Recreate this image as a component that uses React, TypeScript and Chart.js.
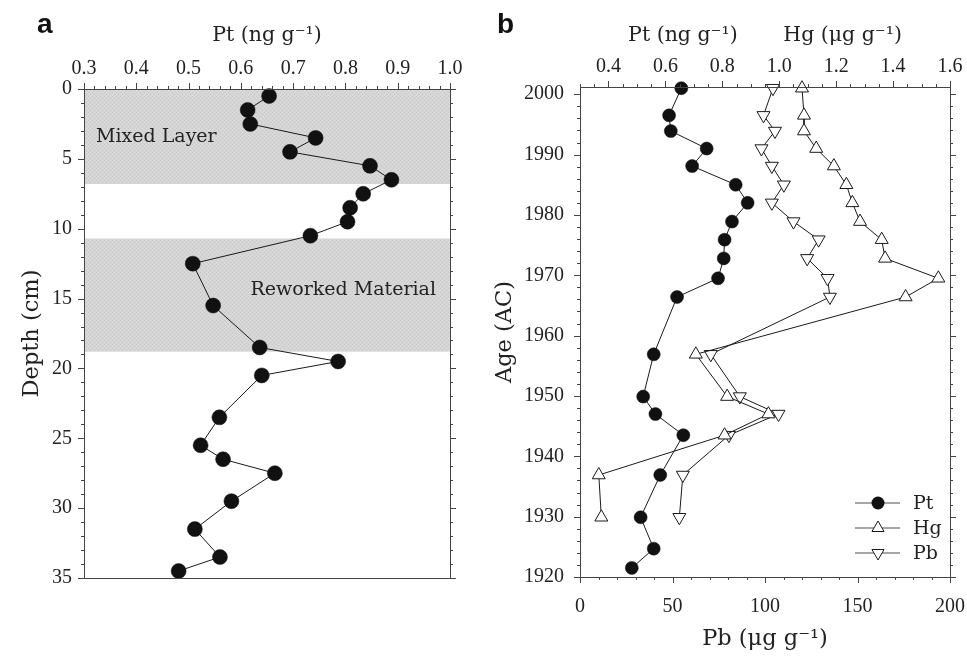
import React, { useEffect, useRef } from 'react';
import { Chart, registerables } from 'chart.js';
Chart.register(...registerables);

// ---------- Panel a : Pt vs depth ----------
const DEPTH_CM = [0.5, 1.5, 2.5, 3.5, 4.5, 5.5, 6.5, 7.5, 8.5, 9.5, 10.5, 12.5, 15.5, 18.5, 19.5, 20.5, 23.5, 25.5, 26.5, 27.5, 29.5, 31.5, 33.5, 34.5];
const PT_BY_DEPTH = [0.654, 0.613, 0.618, 0.743, 0.694, 0.847, 0.888, 0.834, 0.809, 0.804, 0.733, 0.508, 0.547, 0.636, 0.786, 0.640, 0.559, 0.523, 0.566, 0.665, 0.582, 0.512, 0.560, 0.481];
const SHADED_ZONES: [number, number][] = [[0, 6.8], [10.7, 18.8]];
const PT_TICKS_A = [0.3, 0.4, 0.5, 0.6, 0.7, 0.8, 0.9, 1.0];
const DEPTH_TICKS = [0, 5, 10, 15, 20, 25, 30, 35];

// ---------- Panel b : Pt, Hg, Pb vs age ----------
const PT_YEARS = [2001, 1996.5, 1993.9, 1991, 1988.1, 1985, 1982, 1978.9, 1975.9, 1972.8, 1969.5, 1966.4, 1956.9, 1949.9, 1947, 1943.5, 1936.9, 1929.9, 1924.7, 1921.5];
const PT_BY_AGE = [0.656, 0.613, 0.619, 0.745, 0.694, 0.847, 0.889, 0.834, 0.808, 0.805, 0.785, 0.641, 0.559, 0.522, 0.565, 0.663, 0.582, 0.513, 0.559, 0.482];
const METAL_YEARS = [2001, 1996.5, 1993.9, 1991, 1988.1, 1985, 1982, 1978.9, 1975.9, 1972.8, 1969.5, 1966.4, 1956.9, 1949.9, 1947, 1943.5, 1936.9, 1929.9];
const HG = [1.080, 1.087, 1.087, 1.130, 1.192, 1.236, 1.257, 1.284, 1.360, 1.372, 1.559, 1.444, 0.707, 0.817, 0.962, 0.808, 0.366, 0.375];
const PB = [104.3, 99.2, 105.4, 98.1, 103.7, 110.2, 103.7, 115.4, 129.0, 122.8, 133.8, 135.1, 70.7, 86.4, 107.3, 80.5, 55.6, 53.7];
const TOP_TICKS_B = [0.4, 0.6, 0.8, 1.0, 1.2, 1.4, 1.6];
const PB_TICKS = [0, 50, 100, 150, 200];
const YEAR_TICKS = [1920, 1930, 1940, 1950, 1960, 1970, 1980, 1990, 2000];
const LEGEND_LABELS = ['Pt', 'Hg', 'Pb'];

const INK = '#1a1a1a';
const AXIS = '#444';
const TICK_FONT = { family: '"Liberation Serif", serif', size: 20 };
const TOP_TITLE_FONT = { family: '"DejaVu Serif", serif', size: 20.5 };
const SIDE_TITLE_FONT = { family: '"DejaVu Serif", serif', size: 22.5 };

type Side = 'top' | 'bottom' | 'left' | 'right';

function drawTicks(ctx: CanvasRenderingContext2D, scale: any, area: any, side: Side,
  from: number, to: number, step: number, majorEvery: number, majorOffset: number,
  majLen: number, minLen: number) {
  const n = Math.round((to - from) / step);
  ctx.beginPath();
  for (let i = 0; i <= n; i++) {
    const v = from + i * step;
    const major = (i - majorOffset) % majorEvery === 0 && i >= majorOffset;
    const len = major ? majLen : minLen;
    const p = Math.round(scale.getPixelForValue(v)) + 0.5;
    if (side === 'top') { ctx.moveTo(p, area.top); ctx.lineTo(p, area.top - len); }
    if (side === 'bottom') { ctx.moveTo(p, area.bottom); ctx.lineTo(p, area.bottom + len); }
    if (side === 'left') { ctx.moveTo(area.left, p); ctx.lineTo(area.left - len, p); }
    if (side === 'right') { ctx.moveTo(area.right, p); ctx.lineTo(area.right + len, p); }
  }
  ctx.stroke();
}

function drawFrame(ctx: CanvasRenderingContext2D, a: any) {
  ctx.strokeStyle = AXIS;
  ctx.lineWidth = 1;
  ctx.strokeRect(Math.round(a.left) + 0.5, Math.round(a.top) + 0.5,
    Math.round(a.right - a.left), Math.round(a.bottom - a.top));
}

function makePattern(ctx: CanvasRenderingContext2D) {
  const c = document.createElement('canvas');
  c.width = 4; c.height = 4;
  const g = c.getContext('2d')!;
  g.fillStyle = '#d5d5d5'; g.fillRect(0, 0, 4, 4);
  g.fillStyle = '#c9c9c9'; g.fillRect(0, 0, 1, 1); g.fillRect(2, 2, 1, 1);
  g.fillStyle = '#dcdcdc'; g.fillRect(2, 0, 1, 1); g.fillRect(0, 2, 1, 1);
  return ctx.createPattern(c, 'repeat')!;
}

const panelAPlugin = {
  id: 'panelA',
  beforeDatasetsDraw(chart: any) {
    const { ctx, chartArea: a, scales: { y } } = chart;
    ctx.save();
    ctx.fillStyle = makePattern(ctx);
    for (const [d0, d1] of SHADED_ZONES) {
      const y0 = y.getPixelForValue(d0), y1 = y.getPixelForValue(d1);
      ctx.fillRect(a.left, y0, a.right - a.left, y1 - y0);
    }
    ctx.fillStyle = '#222';
    ctx.font = '19px "DejaVu Serif", serif';
    ctx.textBaseline = 'alphabetic';
    ctx.textAlign = 'left';
    ctx.fillText('Mixed Layer', a.left + 12, y.getPixelForValue(3.8));
    ctx.textAlign = 'right';
    ctx.fillText('Reworked Material', a.right - 14, y.getPixelForValue(14.75));
    ctx.restore();
  },
  afterDraw(chart: any) {
    const { ctx, chartArea: a, scales: { x, y } } = chart;
    ctx.save();
    drawFrame(ctx, a);
    ctx.strokeStyle = AXIS;
    drawTicks(ctx, x, a, 'top', 0.3, 1.0, 0.02, 5, 0, 6, 3);
    drawTicks(ctx, y, a, 'left', 0, 35, 1, 5, 0, 6, 3);
    drawTicks(ctx, y, a, 'right', 0, 35, 1, 5, 0, 6, 3);
    ctx.fillStyle = '#111';
    ctx.font = 'bold 28px "Liberation Sans", Arial, sans-serif';
    ctx.textAlign = 'left';
    ctx.textBaseline = 'alphabetic';
    ctx.fillText('a', 37, 33);
    ctx.restore();
  },
};

function drawMarker(ctx: CanvasRenderingContext2D, kind: string, x: number, y: number, r: number) {
  ctx.beginPath();
  if (kind === 'circle') {
    ctx.arc(x, y, r, 0, Math.PI * 2);
    ctx.fillStyle = '#111';
    ctx.fill();
    return;
  }
  const s = kind === 'up' ? 1 : -1;
  for (let k = 0; k < 3; k++) {
    const ang = k * (2 * Math.PI / 3);
    const px = x + Math.sin(ang) * r;
    const py = y - s * Math.cos(ang) * r;
    if (k === 0) ctx.moveTo(px, py); else ctx.lineTo(px, py);
  }
  ctx.closePath();
  ctx.fillStyle = '#fff';
  ctx.fill();
  ctx.strokeStyle = INK;
  ctx.lineWidth = 1;
  ctx.stroke();
}

const panelBPlugin = {
  id: 'panelB',
  afterDraw(chart: any) {
    const { ctx, chartArea: a, scales } = chart;
    ctx.save();
    drawFrame(ctx, a);
    ctx.strokeStyle = AXIS;
    drawTicks(ctx, scales.xTop, a, 'top', 0.3, 1.6, 0.05, 4, 2, 6, 3);
    drawTicks(ctx, scales.xBottom, a, 'bottom', 0, 200, 10, 5, 0, 6, 3);
    drawTicks(ctx, scales.y, a, 'left', 1920, 2000, 2, 5, 0, 6, 3);
    drawTicks(ctx, scales.y, a, 'right', 1920, 2000, 2, 5, 0, 6, 3);

    // legend
    const kinds = ['circle', 'up', 'down'];
    const lx0 = a.right - 95, lx1 = a.right - 50, mx = a.right - 72, tx = a.right - 37;
    const ys = [a.bottom - 74, a.bottom - 49, a.bottom - 24];
    ctx.font = '19px "DejaVu Serif", serif';
    ctx.textBaseline = 'middle';
    ctx.textAlign = 'left';
    LEGEND_LABELS.forEach((lab, i) => {
      ctx.strokeStyle = '#888';
      ctx.lineWidth = 1.5;
      ctx.beginPath();
      ctx.moveTo(lx0, ys[i]); ctx.lineTo(lx1, ys[i]);
      ctx.stroke();
      drawMarker(ctx, kinds[i], mx, ys[i], kinds[i] === 'circle' ? 6.5 : 7);
      ctx.fillStyle = '#222';
      ctx.fillText(lab, tx, ys[i] + 1);
    });

    ctx.fillStyle = '#111';
    ctx.font = 'bold 28px "Liberation Sans", Arial, sans-serif';
    ctx.textAlign = 'left';
    ctx.textBaseline = 'alphabetic';
    ctx.fillText('b', 17, 33);
    ctx.restore();
  },
};

const commonTicks = (padding: number, cb?: (v: number) => string) => ({
  font: TICK_FONT, color: '#222', padding,
  callback: cb ? ((v: any) => cb(Number(v))) : ((v: any) => String(v)),
});
const noGrid = { display: true, drawOnChartArea: false, drawTicks: false };
const fitH = (h: number) => (s: any) => { s.height = h; s.paddingLeft = 0; s.paddingRight = 0; };
const fitV = (w: number) => (s: any) => { s.width = w; s.paddingTop = 0; s.paddingBottom = 0; };

export default function App() {
  const refA = useRef<HTMLCanvasElement>(null);
  const refB = useRef<HTMLCanvasElement>(null);

  useEffect(() => {
    const chartA = new Chart(refA.current!, {
      type: 'scatter',
      data: {
        datasets: [{
          label: 'Pt',
          data: DEPTH_CM.map((d, i) => ({ x: PT_BY_DEPTH[i], y: d })),
          showLine: true,
          borderColor: INK, borderWidth: 1,
          pointRadius: 7.5, pointBackgroundColor: '#111', pointBorderColor: '#111', pointBorderWidth: 0.5,
          clip: false,
        } as any],
      },
      options: {
        animation: false, responsive: false, devicePixelRatio: 1,
        layout: { padding: { left: 0, top: 0, right: 30, bottom: 81 } },
        plugins: { legend: { display: false }, tooltip: { enabled: false } },
        scales: {
          x: {
            type: 'linear', position: 'top', min: 0.3, max: 1.0,
            afterBuildTicks: (s: any) => { s.ticks = PT_TICKS_A.map(v => ({ value: v })); },
            afterFit: fitH(89),
            ticks: commonTicks(8, v => v.toFixed(1)),
            grid: noGrid, border: { display: false },
            title: { display: true, text: 'Pt (ng g⁻¹)', font: TOP_TITLE_FONT, color: '#222', padding: { top: 23, bottom: 0 } },
          },
          y: {
            type: 'linear', reverse: true, min: 0, max: 35,
            afterBuildTicks: (s: any) => { s.ticks = DEPTH_TICKS.map(v => ({ value: v })); },
            afterFit: fitV(84),
            ticks: commonTicks(12),
            grid: noGrid, border: { display: false },
            title: { display: true, text: 'Depth (cm)', font: SIDE_TITLE_FONT, color: '#222', padding: { top: 19, bottom: 0 } },
          },
        },
      } as any,
      plugins: [panelAPlugin],
    });

    const chartB = new Chart(refB.current!, {
      type: 'scatter',
      data: {
        datasets: [
          {
            label: 'Pt', xAxisID: 'xTop', yAxisID: 'y',
            data: PT_YEARS.map((yr, i) => ({ x: PT_BY_AGE[i], y: yr })),
            showLine: true, borderColor: INK, borderWidth: 1,
            pointStyle: 'circle', pointRadius: 6.5,
            pointBackgroundColor: '#111', pointBorderColor: '#111', pointBorderWidth: 0.5,
            clip: false,
          },
          {
            label: 'Hg', xAxisID: 'xTop', yAxisID: 'y',
            data: METAL_YEARS.map((yr, i) => ({ x: HG[i], y: yr })),
            showLine: true, borderColor: INK, borderWidth: 1,
            pointStyle: 'triangle', pointRadius: 7.5,
            pointBackgroundColor: '#fff', pointBorderColor: INK, pointBorderWidth: 1,
            clip: false,
          },
          {
            label: 'Pb', xAxisID: 'xBottom', yAxisID: 'y',
            data: METAL_YEARS.map((yr, i) => ({ x: PB[i], y: yr })),
            showLine: true, borderColor: INK, borderWidth: 1,
            pointStyle: 'triangle', pointRotation: 180, pointRadius: 7.5,
            pointBackgroundColor: '#fff', pointBorderColor: INK, pointBorderWidth: 1,
            clip: false,
          },
        ] as any,
      },
      options: {
        animation: false, responsive: false, devicePixelRatio: 1,
        layout: { padding: { left: 0, top: 0, right: 17, bottom: 0 } },
        plugins: { legend: { display: false }, tooltip: { enabled: false } },
        scales: {
          xTop: {
            type: 'linear', position: 'top', min: 0.3, max: 1.6,
            afterBuildTicks: (s: any) => { s.ticks = TOP_TICKS_B.map(v => ({ value: v })); },
            afterFit: fitH(87),
            ticks: commonTicks(8, v => v.toFixed(1)),
            grid: noGrid, border: { display: false },
            title: { display: true, text: 'Pt (ng g⁻¹)       Hg (μg g⁻¹)', font: TOP_TITLE_FONT, color: '#222', padding: { top: 23, bottom: 0 } },
          },
          xBottom: {
            type: 'linear', position: 'bottom', min: 0, max: 200,
            afterBuildTicks: (s: any) => { s.ticks = PB_TICKS.map(v => ({ value: v })); },
            afterFit: fitH(82),
            ticks: commonTicks(18),
            grid: noGrid, border: { display: false },
            title: { display: true, text: 'Pb (μg g⁻¹)', font: SIDE_TITLE_FONT, color: '#222', padding: { top: 0, bottom: 6 } },
          },
          y: {
            type: 'linear', position: 'left', min: 1920, max: 2001.2,
            afterBuildTicks: (s: any) => { s.ticks = YEAR_TICKS.map(v => ({ value: v })); },
            afterFit: fitV(100),
            ticks: commonTicks(16),
            grid: noGrid, border: { display: false },
            title: { display: true, text: 'Age (AC)', font: SIDE_TITLE_FONT, color: '#222', padding: { top: 12, bottom: 0 } },
          },
        },
      } as any,
      plugins: [panelBPlugin],
    });

    return () => { chartA.destroy(); chartB.destroy(); };
  }, []);

  return (
    <div style={{ position: 'absolute', left: 0, top: 0, width: 967, height: 659, background: '#fff' }}>
      <canvas ref={refA} width={480} height={659} style={{ position: 'absolute', left: 0, top: 0 }} />
      <canvas ref={refB} width={487} height={659} style={{ position: 'absolute', left: 480, top: 0 }} />
    </div>
  );
}
